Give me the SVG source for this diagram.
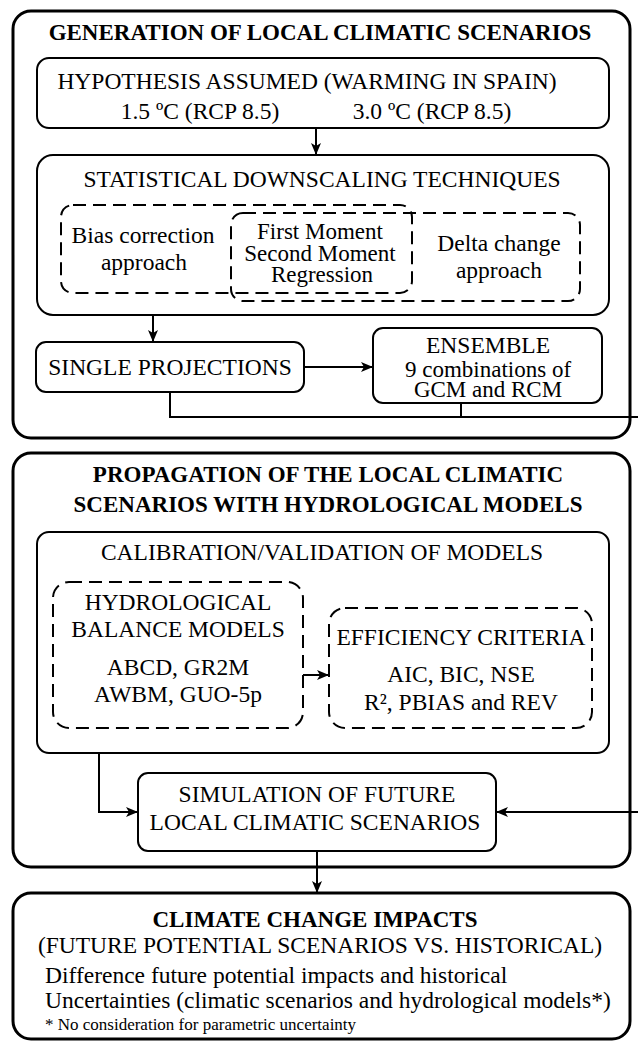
<svg xmlns="http://www.w3.org/2000/svg" width="638" height="1043" viewBox="0 0 638 1043">
<style>
.outer{fill:#fff;stroke:#000;stroke-width:3}
.inner{fill:none;stroke:#000;stroke-width:2}
.dash{fill:none;stroke:#000;stroke-width:2;stroke-dasharray:13 7}
text{font-family:Liberation Serif,DejaVu Serif,serif;fill:#000}
.t{font-size:23.5px;text-anchor:middle}
.b{font-size:23px;font-weight:bold;text-anchor:middle}
.l{font-size:23.5px}
.m{font-size:23px;text-anchor:middle}
.s{font-size:17px}
.c{fill:none;stroke:#000;stroke-width:2}
</style>
<defs>
<marker id="ah" viewBox="0 0 12 10" refX="12" refY="5" markerWidth="12" markerHeight="10" markerUnits="userSpaceOnUse" orient="auto">
<path d="M0,0 L12,5 L0,10 L3,5 Z" fill="#000"/>
</marker>
</defs>
<rect width="638" height="1043" fill="#fff"/>

<g id="panel-generation">
<rect class="outer" x="13" y="11" width="617" height="427" rx="18"/>
<text class="b" x="320" y="40">GENERATION OF LOCAL CLIMATIC SCENARIOS</text>
</g>
<g id="node-hypothesis">
<rect class="inner" x="37" y="58" width="572" height="70" rx="12"/>
<text class="t" x="307" y="89">HYPOTHESIS ASSUMED (WARMING IN SPAIN)</text>
<text class="t" x="200" y="119">1.5 ºC (RCP 8.5)</text>
<text class="t" x="432" y="119">3.0 ºC (RCP 8.5)</text>
</g>
<g id="node-downscaling">
<rect class="inner" x="37" y="155" width="572" height="160" rx="16"/>
<text class="t" x="322" y="187">STATISTICAL DOWNSCALING TECHNIQUES</text>
</g>
<g id="node-bias">
<rect class="dash" x="61" y="205" width="351" height="88" rx="12"/>
<text class="t" x="143" y="243">Bias correction</text>
<text class="t" x="144" y="270">approach</text>
</g>
<g id="node-delta">
<rect class="dash" x="231" y="213" width="349" height="88" rx="12"/>
<text class="t" x="499" y="251">Delta change</text>
<text class="t" x="499" y="278">approach</text>
</g>
<g id="node-moments">
<text class="m" x="320" y="239">First Moment</text>
<text class="m" x="320" y="261">Second Moment</text>
<text class="m" x="322" y="282">Regression</text>
</g>
<g id="node-single">
<rect class="inner" x="36" y="342" width="268" height="50" rx="10"/>
<text class="t" x="170" y="375">SINGLE PROJECTIONS</text>
</g>
<g id="node-ensemble">
<rect class="inner" x="373" y="328" width="229" height="75" rx="10"/>
<text class="t" x="488" y="353">ENSEMBLE</text>
<text class="m" x="488" y="377">9 combinations of</text>
<text class="m" x="488" y="397">GCM and RCM</text>
</g>

<g id="panel-propagation">
<rect class="outer" x="13" y="453" width="617" height="414" rx="18"/>
<text class="b" x="328" y="482">PROPAGATION OF THE LOCAL CLIMATIC</text>
<text class="b" x="328" y="512">SCENARIOS WITH HYDROLOGICAL MODELS</text>
</g>
<g id="node-calibration">
<rect class="inner" x="37" y="532" width="572" height="221" rx="12"/>
<text class="t" x="322" y="560">CALIBRATION/VALIDATION OF MODELS</text>
</g>
<g id="node-hydro">
<rect class="dash" x="53" y="582" width="250" height="146" rx="16"/>
<text class="t" x="178" y="610">HYDROLOGICAL</text>
<text class="t" x="178" y="637">BALANCE MODELS</text>
<text class="t" x="178" y="675">ABCD, GR2M</text>
<text class="t" x="178" y="702">AWBM, GUO-5p</text>
</g>
<g id="node-efficiency">
<rect class="dash" x="329" y="608" width="263" height="120" rx="16"/>
<text class="t" x="461" y="645">EFFICIENCY CRITERIA</text>
<text class="t" x="461" y="682">AIC, BIC, NSE</text>
<text class="t" x="461" y="710">R², PBIAS and REV</text>
</g>
<g id="node-simulation">
<rect class="inner" x="138" y="773" width="358" height="78" rx="10"/>
<text class="t" x="317" y="802">SIMULATION OF FUTURE</text>
<text class="t" x="315" y="830">LOCAL CLIMATIC SCENARIOS</text>
</g>

<g id="node-impacts">
<rect class="outer" x="13" y="893" width="617" height="146" rx="18"/>
<text class="b" x="315" y="927">CLIMATE CHANGE IMPACTS</text>
<text class="t" x="320" y="953">(FUTURE POTENTIAL SCENARIOS VS. HISTORICAL)</text>
<text class="l" x="45" y="983">Difference future potential impacts and historical</text>
<text class="l" x="45" y="1008">Uncertainties (climatic scenarios and hydrological models*)</text>
<text class="s" x="45" y="1030">* No consideration for parametric uncertainty</text>
</g>

<g id="connectors">
<path class="c" d="M316,128 V155" marker-end="url(#ah)"/>
<path class="c" d="M153,315 V342" marker-end="url(#ah)"/>
<path class="c" d="M304,367 H373" marker-end="url(#ah)"/>
<path class="c" d="M170,392 V417 H641 V812 H496" marker-end="url(#ah)"/>
<path class="c" d="M461,403 V417"/>
<path class="c" d="M303,675 H329" marker-end="url(#ah)"/>
<path class="c" d="M99,753 V812 H138" marker-end="url(#ah)"/>
<path class="c" d="M317,851 V893" marker-end="url(#ah)"/>
</g>
</svg>
